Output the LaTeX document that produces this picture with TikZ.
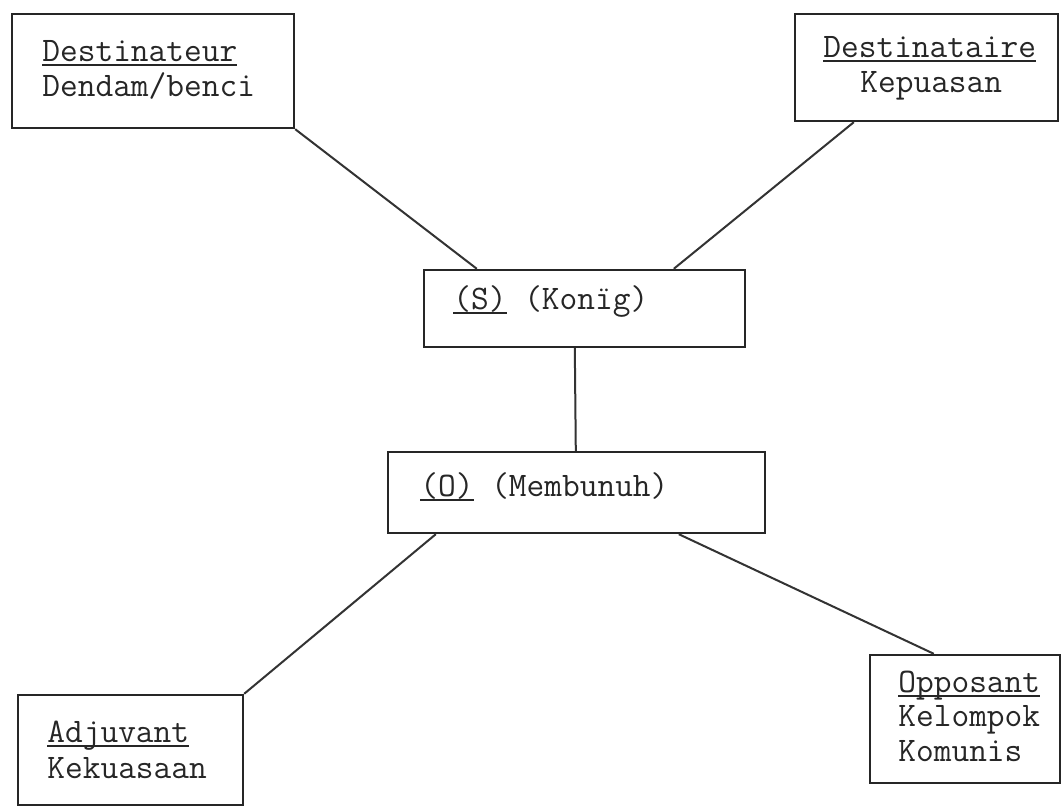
\documentclass[tikz,border=0pt]{standalone}
\usepackage{fontspec}
\usetikzlibrary{calc}
\newcommand\tul[1]{\setbox0\hbox{#1}\rlap{\rule[-1.8pt]{\wd0}{0.8pt}}\box0\relax}
\tikzset{
  box/.style={draw=black!85, line width=1.2pt, rectangle, inner sep=0pt},
  lbl/.style={anchor=base west, inner sep=0pt, font=\ttfamily\fontsize{17.2pt}{20pt}\selectfont, text=black!85},
  link/.style={draw=black!80, line width=1pt}
}
\begin{document}
\begin{tikzpicture}[x=0.5pt,y=-0.5pt]
\useasboundingbox (0,0) rectangle (1061,806);
% boxes
\node[box, minimum width=141pt, minimum height=57pt] (dtr) at (153,71) {};
\node[box, minimum width=131.5pt, minimum height=53.5pt] (dta) at (926.5,67.5) {};
\node[box, minimum width=160.5pt, minimum height=38.5pt] (S) at (584.5,308.5) {};
\node[box, minimum width=188.5pt, minimum height=40.5pt] (O) at (576.5,492.5) {};
\node[box, minimum width=112.5pt, minimum height=55pt] (adj) at (130.5,750) {};
\node[box, minimum width=95pt, minimum height=64pt] (opp) at (965,719) {};
% texts
\node[lbl] (t1) at (42,62) {\tul{Destinateur}};
\node[lbl] (t2) at (42,97) {Dendam/benci};
\node[lbl] (t3) at (823,58) {\tul{Destinataire}};
\node[lbl] (t4) at (860,93) {Kepuasan};
\node[lbl] (t5) at (453,310) {\tul{(S)} (Konïg)};
\node[lbl] (t6) at (420,497) {\tul{(O)} (Membunuh)};
\node[lbl] (t7) at (47,743) {\tul{Adjuvant}};
\node[lbl] (t8) at (47,779) {Kekuasaan};
\node[lbl] (t9) at (898,693) {\tul{Opposant}};
\node[lbl] (t10) at (898,727) {Kelompok};
\node[lbl] (t11) at (898,762) {Komunis};
% connectors
\draw[link] (dtr.south east) -- ($(S.north west)+(54,0)$);
\draw[link] ($(dta.south west)+(60,0)$) -- ($(S.north west)+(251,0)$);
\draw[link] ($(S.south west)+(152,0)$) -- ($(O.north west)+(189,0)$);
\draw[link] ($(O.south west)+(49,0)$) -- (adj.north east);
\draw[link] ($(O.south west)+(292,0)$) -- ($(opp.north west)+(65,0)$);
\end{tikzpicture}
\end{document}
